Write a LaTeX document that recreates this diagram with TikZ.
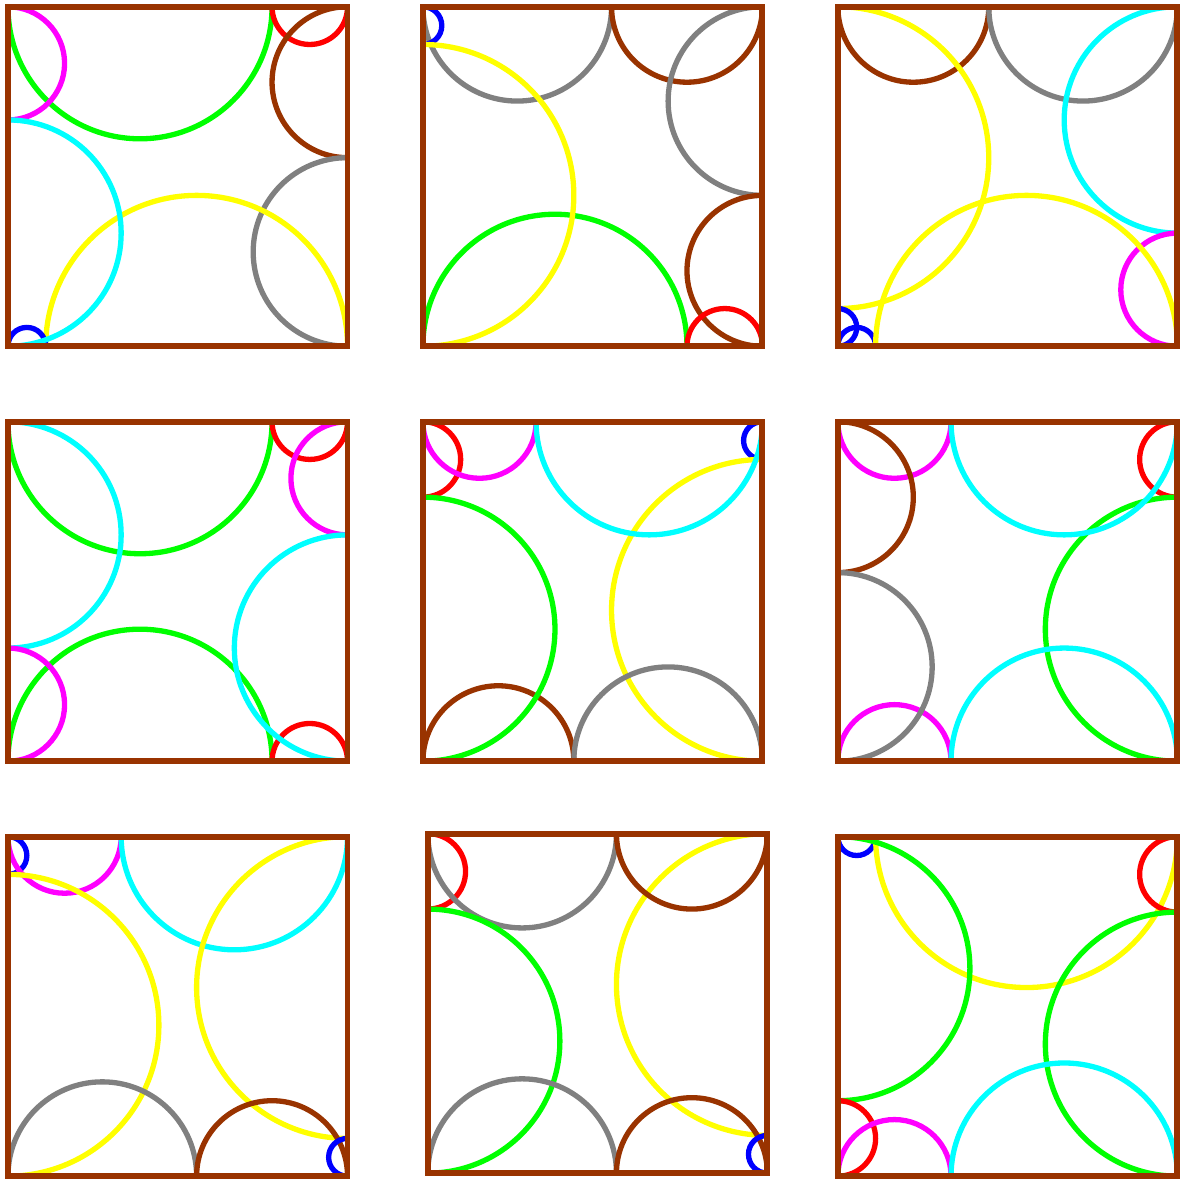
\documentclass[tikz,border=0pt]{standalone}
\usepackage{xcolor}
\usepackage{tikz}
\definecolor{rust}{RGB}{153,51,0}
\definecolor{aqua}{RGB}{0,255,255}
\definecolor{pink}{RGB}{255,0,255}
\definecolor{lemon}{RGB}{255,255,0}
\definecolor{lime}{RGB}{0,255,0}

\begin{document}
\begin{tikzpicture}[semi/.style={line width=4pt}, frame/.style={draw=rust, line width=4.5pt, line join=miter}]
\useasboundingbox (-0.212,-0.053) rectangle (31.07,31.18);
% Row 1 -- squares of side 9, pitch 11
\begin{scope}[shift={(0,22)}]
  \begin{scope}
    \clip (0,0) rectangle (9,9);
    \foreach \c/\x/\y/\r in {lime/3.5/9/3.5, red/8/9/1, rust/9/7/2, gray/9/2.5/2.5,
                             lemon/5/0/4, blue/0.5/0/0.5, pink/0/7.5/1.5, aqua/0/3/3}
      \draw[semi, draw=\c] (\x,\y) circle[radius=\r];
  \end{scope}
  \draw[frame] (0,0) rectangle (9,9);
\end{scope}
\begin{scope}[shift={(11,22)}]
  \begin{scope}
    \clip (0,0) rectangle (9,9);
    \foreach \c/\x/\y/\r in {gray/2.5/9/2.5, rust/7/9/2, gray/9/6.5/2.5, rust/9/2/2,
                             lime/3.5/0/3.5, red/8/0/1, blue/0/8.5/0.5, lemon/0/4/4}
      \draw[semi, draw=\c] (\x,\y) circle[radius=\r];
  \end{scope}
  \draw[frame] (0,0) rectangle (9,9);
\end{scope}
\begin{scope}[shift={(22,22)}]
  \begin{scope}
    \clip (0,0) rectangle (9,9);
    \foreach \c/\x/\y/\r in {rust/2/9/2, gray/6.5/9/2.5, aqua/9/6/3, pink/9/1.5/1.5,
                             blue/0.5/0/0.5, lemon/5/0/4, lemon/0/5/4, blue/0/0.5/0.5}
      \draw[semi, draw=\c] (\x,\y) circle[radius=\r];
  \end{scope}
  \draw[frame] (0,0) rectangle (9,9);
\end{scope}
% Row 2
\begin{scope}[shift={(0,11)}]
  \begin{scope}
    \clip (0,0) rectangle (9,9);
    \foreach \c/\x/\y/\r in {lime/3.5/9/3.5, red/8/9/1, pink/9/7.5/1.5, lime/3.5/0/3.5,
                             red/8/0/1, aqua/9/3/3, aqua/0/6/3, pink/0/1.5/1.5}
      \draw[semi, draw=\c] (\x,\y) circle[radius=\r];
  \end{scope}
  \draw[frame] (0,0) rectangle (9,9);
\end{scope}
\begin{scope}[shift={(11,11)}]
  \begin{scope}
    \clip (0,0) rectangle (9,9);
    \foreach \c/\x/\y/\r in {red/0/8/1, pink/1.5/9/1.5, blue/9/8.5/0.5, lemon/9/4/4,
                             aqua/6/9/3, rust/2/0/2, gray/6.5/0/2.5, lime/0/3.5/3.5}
      \draw[semi, draw=\c] (\x,\y) circle[radius=\r];
  \end{scope}
  \draw[frame] (0,0) rectangle (9,9);
\end{scope}
\begin{scope}[shift={(22,11)}]
  \begin{scope}
    \clip (0,0) rectangle (9,9);
    \foreach \c/\x/\y/\r in {pink/1.5/9/1.5, rust/0/7/2, red/9/8/1, lime/9/3.5/3.5,
                             aqua/6/9/3, pink/1.5/0/1.5, gray/0/2.5/2.5, aqua/6/0/3}
      \draw[semi, draw=\c] (\x,\y) circle[radius=\r];
  \end{scope}
  \draw[frame] (0,0) rectangle (9,9);
\end{scope}
% Row 3 (middle one sits a little off the grid)
\begin{scope}[shift={(0,0)}]
  \begin{scope}
    \clip (0,0) rectangle (9,9);
    \foreach \c/\x/\y/\r in {blue/0/8.5/0.5, pink/1.5/9/1.5, lemon/0/4/4, aqua/6/9/3,
                             lemon/9/5/4, gray/2.5/0/2.5, rust/7/0/2, blue/9/0.5/0.5}
      \draw[semi, draw=\c] (\x,\y) circle[radius=\r];
  \end{scope}
  \draw[frame] (0,0) rectangle (9,9);
\end{scope}
\begin{scope}[shift={(11.13,0.08)}]
  \begin{scope}
    \clip (0,0) rectangle (9,9);
    \foreach \c/\x/\y/\r in {red/0/8/1, gray/2.5/9/2.5, lime/0/3.5/3.5, lemon/9/5/4,
                             rust/7/9/2, gray/2.5/0/2.5, rust/7/0/2, blue/9/0.5/0.5}
      \draw[semi, draw=\c] (\x,\y) circle[radius=\r];
  \end{scope}
  \draw[frame] (0,0) rectangle (9,9);
\end{scope}
\begin{scope}[shift={(22,0)}]
  \begin{scope}
    \clip (0,0) rectangle (9,9);
    \foreach \c/\x/\y/\r in {blue/0.5/9/0.5, lemon/5/9/4, lime/0/5.5/3.5, red/9/8/1,
                             lime/9/3.5/3.5, red/0/1/1, pink/1.5/0/1.5, aqua/6/0/3}
      \draw[semi, draw=\c] (\x,\y) circle[radius=\r];
  \end{scope}
  \draw[frame] (0,0) rectangle (9,9);
\end{scope}
\end{tikzpicture}
\end{document}
